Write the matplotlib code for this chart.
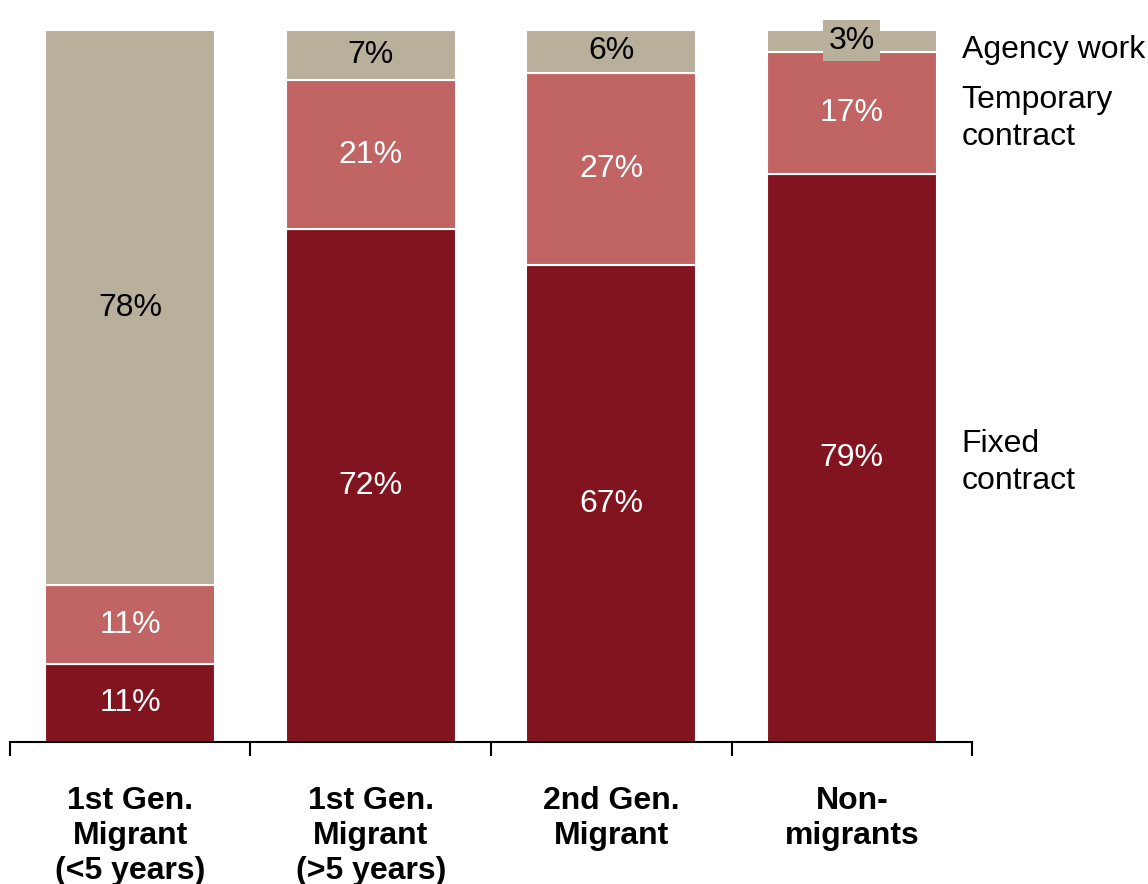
import numpy as np
import matplotlib.pyplot as plt

plt.rcParams['font.family'] = ['Liberation Sans', 'DejaVu Sans']

groups = ['1st Gen.\nMigrant\n(<5 years)', '1st Gen.\nMigrant\n(>5 years)',
          '2nd Gen.\nMigrant', 'Non-\nmigrants']
fixed = [11, 72, 67, 79]
temporary = [11, 21, 27, 17]
agency = [78, 7, 6, 3]
series_names = ['Fixed\ncontract', 'Temporary\ncontract', 'Agency work']
colors = ['#82141F', '#C06564', '#B8B09A']
text_colors = ['white', 'white', 'black']

data = np.array([fixed, temporary, agency], dtype=float)
shares = data / data.sum(axis=0) * 100

fig = plt.figure(figsize=(11.48, 8.84), dpi=100)
ax = fig.add_axes([0.0087, 0.1606, 0.838, 0.8054])

x = np.arange(len(groups))
bottom = np.zeros(len(groups))
for i in range(3):
    ax.bar(x, shares[i], 0.705, bottom=bottom, color=colors[i],
           edgecolor='white', linewidth=1.5)
    for j in range(len(groups)):
        yc = bottom[j] + shares[i][j] / 2
        box = None
        if shares[i][j] < 4:
            box = dict(facecolor=colors[i], edgecolor='none', pad=4)
        ax.text(x[j], yc, f'{int(data[i][j])}%', ha='center', va='center',
                fontsize=23, color=text_colors[i], bbox=box)
    bottom += shares[i]

# series names next to last bar
last = len(groups) - 1
cum = np.cumsum(shares[:, last]) - shares[:, last] / 2
label_y = [cum[0] - 0.6, cum[1] - 0.8, cum[2] - 1.3]
for i in range(3):
    ax.text(3.457, label_y[i], series_names[i], ha='left', va='center',
            fontsize=23, color='black', linespacing=1.3, clip_on=False)

ax.set_xlim(-0.5, 3.5)
ax.set_ylim(0, 100)
ax.set_xticks(x)
ax.set_xticklabels(groups, fontsize=23, fontweight='bold', linespacing=1.2)
ax.tick_params(axis='x', length=0, pad=32)
ax.set_xticks(np.arange(-0.5, 4, 1), minor=True)
ax.tick_params(axis='x', which='minor', length=10, width=1.5, direction='out')
ax.set_yticks([])
for s in ['top', 'right', 'left']:
    ax.spines[s].set_visible(False)
ax.spines['bottom'].set_linewidth(1.5)

fig.savefig('out.png', dpi=100)
